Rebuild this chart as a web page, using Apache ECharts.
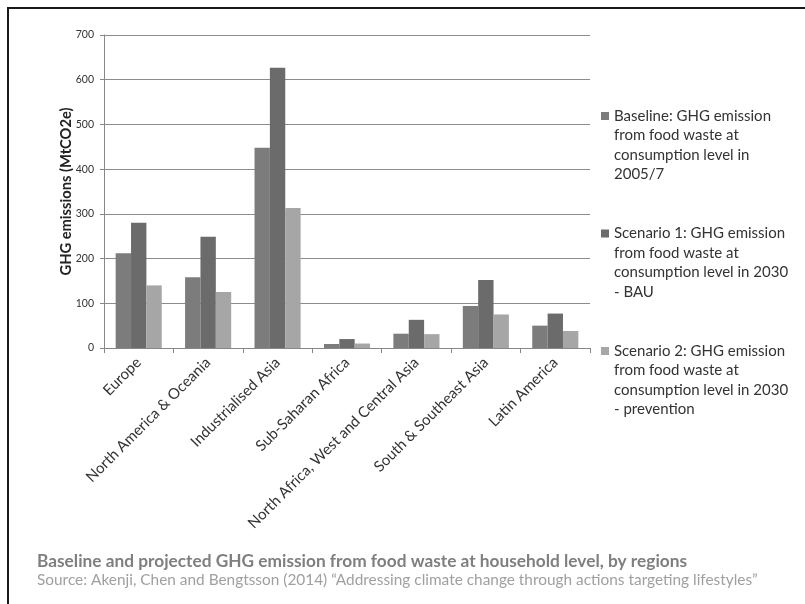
<!DOCTYPE html>
<html>
<head>
<meta charset="utf-8">
<script src="https://cdn.jsdelivr.net/npm/echarts@6/dist/echarts.min.js"></script>
<style>
html,body{margin:0;padding:0;background:#fff;}
#chart{width:805px;height:604px;}
</style>
</head>
<body>
<div id="chart"></div>
<script>
const categories = ["Europe", "North America & Oceania", "Industrialised Asia", "Sub-Saharan Africa", "North Africa, West and Central Asia", "South & Southeast Asia", "Latin America"];
const seriesNames = [
  "Baseline: GHG emission\nfrom food waste at\nconsumption level in\n2005/7",
  "Scenario 1: GHG emission\nfrom food waste at\nconsumption level in 2030\n- BAU",
  "Scenario 2: GHG emission\nfrom food waste at\nconsumption level in 2030\n- prevention"
];
const baseline  = [212, 158, 448, 9, 32, 94, 50];
const scenario1 = [280, 249, 627, 20, 63, 152, 77];
const scenario2 = [140, 125, 313, 10, 31, 75, 38];
const yTicks = { min: 0, max: 700, interval: 100 };
const titleText = "Baseline and projected GHG emission from food waste at household level, by regions";
const sourceText = "Source: Akenji, Chen and Bengtsson (2014) \u201cAddressing climate change through actions targeting lifestyles\u201d";
const yAxisName = "GHG emissions (MtCO2e)";

const colors = ["#7c7c7c", "#6b6b6b", "#a6a6a6"];
const FONT = "Lato";

const chart = echarts.init(document.getElementById('chart'), null, {renderer: 'canvas'});
const legendIcon = 'path://M0,0h8M0,6h8v8h-8zM0,78h8';

chart.setOption({
  animation: false,
  backgroundColor: '#fff',
  textStyle: { fontFamily: FONT },
  title: [
    { text: titleText, left: 37, top: 551, padding: 0,
      textStyle: { fontFamily: FONT, fontSize: 17.3, fontWeight: 'bold', color: '#7f7f7f', lineHeight: 20 } },
    { text: sourceText, left: 37, top: 571, padding: 0,
      textStyle: { fontFamily: FONT, fontSize: 15.4, fontWeight: 'normal', color: '#a0a0a0', lineHeight: 19 } }
  ],
  legend: {
    orient: 'vertical', left: 601, top: 106, padding: 0,
    itemWidth: 8, itemHeight: 78, itemGap: 39.5,
    icon: legendIcon,
    itemStyle: { borderWidth: 0 },
    textStyle: { fontFamily: FONT, fontSize: 15, lineHeight: 19.5, color: '#333' },
    data: seriesNames
  },
  grid: { left: 104, right: 215, top: 35, bottom: 256, containLabel: false },
  xAxis: {
    type: 'category', data: categories, boundaryGap: true,
    axisLine: { show: true, lineStyle: { color: '#888', width: 1 } },
    axisTick: { show: true, length: 5, lineStyle: { color: '#888' } },
    axisLabel: { interval: 0, rotate: 45, margin: 12, fontFamily: FONT, fontSize: 15, color: '#333' },
    splitLine: { show: false }
  },
  yAxis: {
    type: 'value', min: yTicks.min, max: yTicks.max, interval: yTicks.interval,
    name: yAxisName, nameLocation: 'middle', nameGap: 30, nameRotate: 90, nameMoveOverlap: false,
    nameTextStyle: { fontFamily: FONT, fontSize: 14.7, fontWeight: 'bold', color: '#222' },
    axisLine: { show: true, lineStyle: { color: '#888', width: 1 } },
    axisTick: { show: true, length: 4, lineStyle: { color: '#888' } },
    axisLabel: { margin: 10, fontFamily: FONT, fontSize: 10.5, color: '#333' },
    splitLine: { show: true, lineStyle: { color: '#8c8c8c', width: 1 } }
  },
  series: [
    { name: seriesNames[0], type: 'bar', data: baseline, barGap: '0%', barCategoryGap: '33.6%', itemStyle: { color: colors[0] } },
    { name: seriesNames[1], type: 'bar', data: scenario1, barGap: '0%', barCategoryGap: '33.6%', itemStyle: { color: colors[1] } },
    { name: seriesNames[2], type: 'bar', data: scenario2, barGap: '0%', barCategoryGap: '33.6%', itemStyle: { color: colors[2] } }
  ],
  graphic: [
    { type: 'polyline', silent: true, z: 100,
      shape: { points: [[8, 604], [8, 8], [805, 8]] },
      style: { stroke: '#1a1a1a', lineWidth: 2, fill: null } }
  ]
});
</script>
</body>
</html>
